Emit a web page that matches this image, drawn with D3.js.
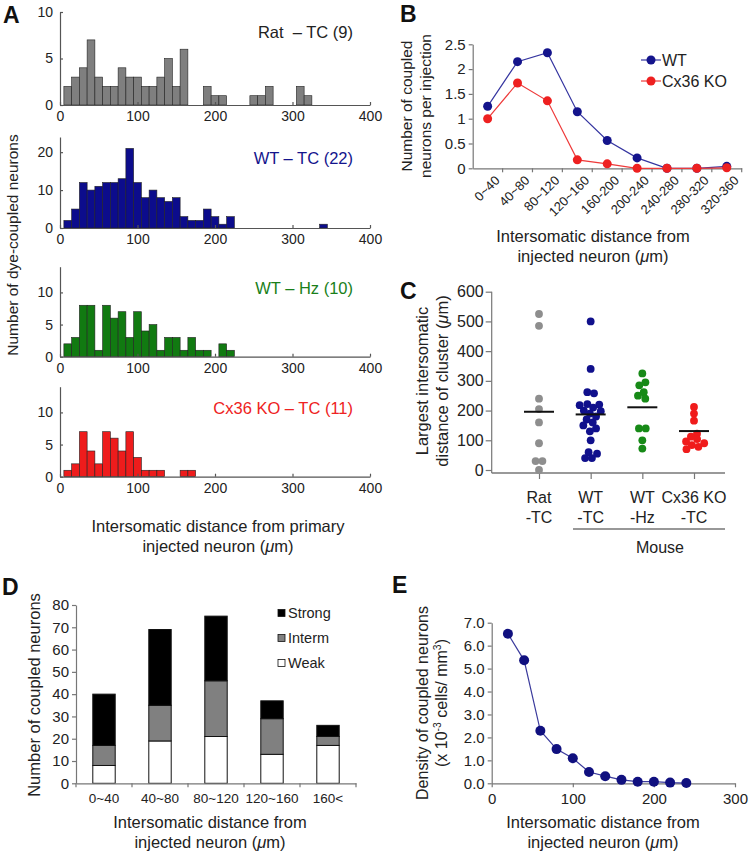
<!DOCTYPE html>
<html>
<head>
<meta charset="utf-8">
<script src="https://cdn.jsdelivr.net/npm/d3@7"></script>
<style>
  body { margin: 0; background: #fff; }
  svg { display: block; font-family: Arial, "Liberation Sans", Helvetica, sans-serif; }
</style>
</head>
<body>
<svg id="fig" width="750" height="853"></svg>
<script>
// ---- Panel A: dye-coupled neuron counts per 10 um bin (bin centres 10, 20, 30 ...)
const ratCounts   = [2,3,4,7,3,2,2,4,3,3,2,2,3,5,2,6,0,0,2,1,1,0,0,0,1,1,2,0,0,0,2,1];
const wtTcCounts  = [2,5,12,10,11,12,12,13,21,12,8,10,8,7,8,3,2,2,5,3,1,3,0,0,0,0,0,0,0,0,0,0,0,1];
const wtHzCounts  = [2,3,8,8,1,8,6,7,3,7,4,5,1,3,3,1,3,1,1,0,2,1];
const koCounts    = [1,2,7,4,2,7,6,4,7,3,1,1,1,0,0,1,1];
const histLabels  = ["Rat\u00a0 \u2013 TC (9)", "WT \u2013 TC (22)", "WT \u2013 Hz (10)", "Cx36 KO \u2013 TC (11)"];

// ---- Panel B: coupled neurons per injection
const bBins = ["0~40","40~80","80~120","120~160","160-200","200-240","240-280","280-320","320-360"];
const bWT   = [1.25, 2.15, 2.33, 1.14, 0.56, 0.21, 0.0, 0.0, 0.04];
const bKO   = [1.0, 1.72, 1.36, 0.17, 0.09, 0.0, 0.0, 0.0, 0.01];

// ---- Panel C: largest intersomatic distance of cluster (um)
const cGroups = ["Rat|-TC", "WT|-TC", "WT|-Hz", "Cx36 KO|-TC"];
const cRat  = [525, 485, 240, 205, 160, 90, 30, 30, 0];
const cWtTc = [500, 340, 262, 258, 222, 220, 218, 210, 200, 198, 190, 180, 170, 160, 150, 140, 130, 100, 60, 55, 40, 40];
const cWtHz = [325, 295, 285, 262, 250, 240, 140, 140, 100, 72];
const cKO   = [212, 190, 166, 122, 112, 104, 96, 90, 84, 78, 70];
const cMeans = [196, 187, 211, 131];

// ---- Panel D: stacked coupling strength
const dBins   = ["0~40","40~80","80~120","120~160","160<"];
const dWeak   = [8, 19, 21, 13, 17];
const dInterm = [9, 16, 25, 16, 4];
const dStrong = [23, 34, 29, 8, 5];

// ---- Panel E: density of coupled neurons
const eDist    = [20, 40, 60, 80, 100, 120, 140, 160, 180, 200, 220, 240];
const eDensity = [6.52, 5.36, 2.29, 1.49, 1.09, 0.49, 0.31, 0.15, 0.07, 0.07, 0.03, 0.01];

const svg = d3.select("#fig");
svg.append("rect").attr("width", 750).attr("height", 853).attr("fill", "#fff");

const ink = "#222";
const axisGray = "#777";

function styleAxis(g, size, col) {
  g.selectAll("path.domain").attr("stroke", col || axisGray).attr("stroke-width", 1.2);
  g.selectAll(".tick line").attr("stroke", col || axisGray).attr("stroke-width", 1.2);
  g.selectAll(".tick text").attr("fill", ink).style("font-size", size + "px").attr("font-family", null);
}

function panelLetter(t, x, y) {
  svg.append("text").attr("x", x).attr("y", y).text(t)
    .style("font-size", "23px").style("font-weight", "bold").attr("fill", "#111");
}

// two-line title, optionally rotated
function title2(lines, x, y, size, rotate) {
  const g = svg.append("g").attr("transform", `translate(${x},${y})` + (rotate ? " rotate(-90)" : ""));
  lines.forEach((ln, i) => {
    const t = g.append("text").attr("text-anchor", "middle").attr("y", i * (size * 1.2))
      .style("font-size", size + "px").attr("fill", ink);
    ln.forEach(part => {
      const s = t.append("tspan").text(part.t);
      if (part.it) s.style("font-style", "italic");
      if (part.sup) s.attr("dy", -size * 0.4).style("font-size", (size * 0.65) + "px");
      if (part.down) s.attr("dy", size * 0.4);
    });
  });
  return g;
}
const umLine = (pre) => [{t: pre + " ("}, {t: "\u03bc", it: true}, {t: "m)"}];

// ================= Panel A =================
panelLetter("A", 3, 23);
const hx = d3.scaleLinear().domain([0, 400]).range([60, 370]);
const hists = [
  {counts: ratCounts,  fill: "#7f7f7f", lab: "#222",    yMax: 10, ticks: [0,5,10],  y0: 105,   y1: 12},
  {counts: wtTcCounts, fill: "#0c0c8c", lab: "#14148c", yMax: 24, ticks: [0,10,20], y0: 228,   y1: 137},
  {counts: wtHzCounts, fill: "#117a11", lab: "#1a7f1a", yMax: 14, ticks: [0,5,10],  y0: 356.7, y1: 266.7},
  {counts: koCounts,   fill: "#ee1c1c", lab: "#ee2222", yMax: 14, ticks: [0,5,10],  y0: 476.7, y1: 386.7}
];
hists.forEach((h, k) => {
  const y = d3.scaleLinear().domain([0, h.yMax]).range([h.y0, h.y1]);
  const g = svg.append("g");
  const bins = h.counts.map((c, i) => ({c: c, mid: 10 + 10 * i})).filter(d => d.c > 0);
  g.selectAll("rect").data(bins).join("rect")
    .attr("x", d => hx(d.mid - 5)).attr("width", d => hx(d.mid + 5) - hx(d.mid - 5))
    .attr("y", d => y(d.c)).attr("height", d => y(0) - y(d.c))
    .attr("fill", h.fill).attr("stroke", "#222").attr("stroke-width", 0.6);
  const ax = g.append("g").attr("transform", `translate(0,${h.y0})`)
    .call(d3.axisBottom(hx).tickValues([0,100,200,300,400]).tickSize(-3).tickSizeOuter(0).tickPadding(6));
  styleAxis(ax, 14, "#555");
  const ay = g.append("g").attr("transform", `translate(${hx(0)},0)`)
    .call(d3.axisLeft(y).tickValues(h.ticks).tickSize(-3).tickSizeOuter(0).tickPadding(7));
  styleAxis(ay, 14, "#555");
  g.append("text").attr("x", 353).attr("y", h.y1 + (k === 0 ? 26 : 27))
    .attr("text-anchor", "end").style("font-size", "16.5px").attr("fill", h.lab).text(histLabels[k]);
});
title2([[{t: "Number of dye-coupled neurons"}]], 18, 245, 15.5, true);
title2([[{t: "Intersomatic distance from primary"}], umLine("injected neuron")], 218, 532, 16.5, false);

// ================= Panel B =================
panelLetter("B", 400, 22);
const bx = d3.scaleBand().domain(bBins).range([472.7, 741.7]);
const by = d3.scaleLinear().domain([0, 2.5]).range([168.3, 44.3]);
const bxc = d => bx(d) + bx.bandwidth() / 2;
const bAxX = svg.append("g").attr("transform", `translate(0,${by(0)})`)
  .call(d3.axisBottom(bx).tickSize(0).tickPadding(8));
styleAxis(bAxX, 13);
bAxX.selectAll(".tick text").attr("text-anchor", "end").attr("dy", "0.35em")
  .attr("transform", "translate(4,4) rotate(-45)");
// tick marks between categories
bAxX.selectAll("line.sep").data(bBins.slice(1).concat(["_end"])).join("line").attr("class", "sep")
  .attr("x1", (d, i) => bx.range()[0] + bx.step() * (i + 1)).attr("x2", (d, i) => bx.range()[0] + bx.step() * (i + 1))
  .attr("y1", 0).attr("y2", 4).attr("stroke", axisGray).attr("stroke-width", 1.2);
const bAxY = svg.append("g").attr("transform", `translate(${bx.range()[0]},0)`)
  .call(d3.axisLeft(by).tickValues([0, 0.5, 1, 1.5, 2, 2.5]).tickFormat(d3.format("~g")).tickSize(4).tickSizeOuter(0).tickPadding(3));
styleAxis(bAxY, 15);
const bSeries = [
  {vals: bWT, line: "#3535a0", dot: "#14148c", name: "WT"},
  {vals: bKO, line: "#ee3a3a", dot: "#ee2020", name: "Cx36 KO"}
];
const bLine = d3.line().x((d, i) => bxc(bBins[i])).y(d => by(d));
bSeries.forEach((s, k) => {
  svg.append("path").datum(s.vals).attr("d", bLine).attr("fill", "none").attr("stroke", s.line).attr("stroke-width", 1.2);
  svg.append("g").selectAll("circle").data(s.vals).join("circle")
    .attr("cx", (d, i) => bxc(bBins[i])).attr("cy", d => by(d)).attr("r", 4.5).attr("fill", s.dot);
  const ly = 60 + k * 21;
  svg.append("line").attr("x1", 641).attr("x2", 661).attr("y1", ly).attr("y2", ly).attr("stroke", s.line).attr("stroke-width", 1.2);
  svg.append("circle").attr("cx", 651).attr("cy", ly).attr("r", 4.5).attr("fill", s.dot);
  svg.append("text").attr("x", 662).attr("y", ly + 5.5).style("font-size", "16px").attr("fill", ink).text(s.name);
});
title2([[{t: "Number of coupled"}], [{t: "neurons per injection"}]], 412, 106, 15.5, true);
title2([[{t: "Intersomatic distance from"}], umLine("injected neuron")], 593, 242, 16.5, false);

// ================= Panel C =================
panelLetter("C", 400, 299);
const cx = d3.scalePoint().domain(cGroups).range([539, 694]);
const cy = d3.scaleLinear().domain([0, 600]).range([470, 291.7]);
const cAxX = svg.append("g").attr("transform", `translate(0,${cy(0) + 3})`)
  .call(d3.axisBottom(cx).tickSize(6).tickFormat(""));
styleAxis(cAxX, 16);
cAxX.select("path.domain").remove();
cAxX.append("line").attr("x1", 491.7).attr("x2", 725).attr("stroke", axisGray).attr("stroke-width", 1.5);
const cAxY = svg.append("g").attr("transform", `translate(491.7,0)`)
  .call(d3.axisLeft(cy).ticks(6).tickSize(6).tickSizeOuter(0).tickPadding(2));
styleAxis(cAxY, 16);
cAxY.select("path.domain").attr("d", `M0,${cy(600)}V${cy(0) + 3}`);
const cColors = ["#8e8e8e", "#10108c", "#178a17", "#f01c1c"];
const cData = [cRat, cWtTc, cWtHz, cKO];
const cNodes = [];
cData.forEach((vals, gi) => vals.forEach((v, i) => {
  cNodes.push({g: gi, v: v, fy: cy(v), x: cx(cGroups[gi]) + (i % 2 ? 0.3 : -0.3) * (1 + i * 0.1), y: cy(v)});
}));
// compact swarm: points may overlap a little, as in the reference
const swarm = d3.forceSimulation(cNodes)
  .force("x", d3.forceX(d => cx(cGroups[d.g])).strength(0.25))
  .force("collide", d3.forceCollide(3.4).strength(0.8))
  .stop();
for (let i = 0; i < 300; i++) swarm.tick();
svg.append("g").selectAll("circle").data(cNodes).join("circle")
  .attr("cx", d => d.x).attr("cy", d => d.fy).attr("r", 3.9).attr("fill", d => cColors[d.g]);
svg.append("g").selectAll("line").data(cMeans).join("line")
  .attr("x1", (d, i) => cx(cGroups[i]) - 15).attr("x2", (d, i) => cx(cGroups[i]) + 15)
  .attr("y1", d => cy(d)).attr("y2", d => cy(d)).attr("stroke", "#111").attr("stroke-width", 2);
cGroups.forEach(gname => {
  const [a, b] = gname.split("|");
  svg.append("text").attr("x", cx(gname)).attr("y", 503).attr("text-anchor", "middle").style("font-size", "16px").attr("fill", ink).text(a);
  svg.append("text").attr("x", cx(gname)).attr("y", 523).attr("text-anchor", "middle").style("font-size", "16px").attr("fill", ink).text(b);
});
svg.append("line").attr("x1", 573).attr("x2", 725).attr("y1", 529).attr("y2", 529).attr("stroke", "#333").attr("stroke-width", 1.2);
svg.append("text").attr("x", 660).attr("y", 553).attr("text-anchor", "middle").style("font-size", "16px").attr("fill", ink).text("Mouse");
title2([[{t: "Largest intersomatic"}], umLine("distance of cluster")], 428, 381, 16.5, true);

// ================= Panel D =================
panelLetter("D", 2, 595);
const dx = d3.scaleBand().domain(dBins).range([76, 356]).paddingInner(0.6).paddingOuter(0.3);
const dy = d3.scaleLinear().domain([0, 80]).range([783.3, 605]);
const dStack = d3.stack().keys([0, 1, 2])(dBins.map((b, i) => [dWeak[i], dInterm[i], dStrong[i]]));
const dFills = ["#ffffff", "#808080", "#000000"];
dStack.forEach((layer, k) => {
  svg.append("g").selectAll("rect").data(layer).join("rect")
    .attr("x", (d, i) => dx(dBins[i])).attr("width", dx.bandwidth())
    .attr("y", d => dy(d[1])).attr("height", d => dy(d[0]) - dy(d[1]))
    .attr("fill", dFills[k]).attr("stroke", "#111").attr("stroke-width", 1);
});
const dAxX = svg.append("g").attr("transform", `translate(0,${dy(0)})`)
  .call(d3.axisBottom(dx).tickSize(0).tickPadding(10).tickSizeOuter(0));
styleAxis(dAxX, 13.5);
dAxX.selectAll("line.sep").data(d3.range(dBins.length + 1)).join("line").attr("class", "sep")
  .attr("x1", i => 76 + dx.step() * i).attr("x2", i => 76 + dx.step() * i)
  .attr("y1", 0).attr("y2", 4).attr("stroke", axisGray).attr("stroke-width", 1.2);
const dAxY = svg.append("g").attr("transform", `translate(76,0)`)
  .call(d3.axisLeft(dy).ticks(8).tickSize(4).tickSizeOuter(0).tickPadding(3));
styleAxis(dAxY, 15);
const dLegend = [["Strong", "#000"], ["Interm", "#808080"], ["Weak", "#fff"]];
dLegend.forEach(([name, col], i) => {
  const ly = 613 + i * 25;
  svg.append("rect").attr("x", 278).attr("y", ly - 3.5).attr("width", 7).attr("height", 7).attr("fill", col).attr("stroke", "#111").attr("stroke-width", 0.8);
  svg.append("text").attr("x", 288).attr("y", ly + 5).style("font-size", "14.5px").attr("fill", ink).text(name);
});
title2([[{t: "Number of coupled neurons"}]], 40, 695, 16.5, true);
title2([[{t: "Intersomatic distance from"}], umLine("injected neuron")], 210, 828, 16.5, false);

// ================= Panel E =================
panelLetter("E", 392, 593);
const ex = d3.scaleLinear().domain([0, 300]).range([491.7, 735]);
const ey = d3.scaleLinear().domain([0, 7]).range([783.3, 622.7]);
const eAxX = svg.append("g").attr("transform", `translate(0,${ey(0)})`)
  .call(d3.axisBottom(ex).tickValues([0, 100, 200, 300]).tickSize(4).tickSizeOuter(0).tickPadding(6));
styleAxis(eAxX, 15);
const eAxY = svg.append("g").attr("transform", `translate(${ex(0)},0)`)
  .call(d3.axisLeft(ey).ticks(7).tickFormat(d3.format(".1f")).tickSize(4).tickSizeOuter(0).tickPadding(3));
styleAxis(eAxY, 15);
svg.append("path").datum(eDensity)
  .attr("d", d3.line().x((d, i) => ex(eDist[i])).y(d => ey(d)))
  .attr("fill", "none").attr("stroke", "#3a3a9c").attr("stroke-width", 1.2);
svg.append("g").selectAll("circle").data(eDensity).join("circle")
  .attr("cx", (d, i) => ex(eDist[i])).attr("cy", d => ey(d)).attr("r", 5).attr("fill", "#10107f");
title2([[{t: "Density of coupled neurons"}],
        [{t: "(x 10"}, {t: "-3", sup: true}, {t: " cells/ mm", down: true}, {t: "3", sup: true}, {t: ")", down: true}]],
       428, 703, 16, true);
title2([[{t: "Intersomatic distance from"}], umLine("injected neuron")], 603, 828, 16.5, false);
</script>
</body>
</html>
